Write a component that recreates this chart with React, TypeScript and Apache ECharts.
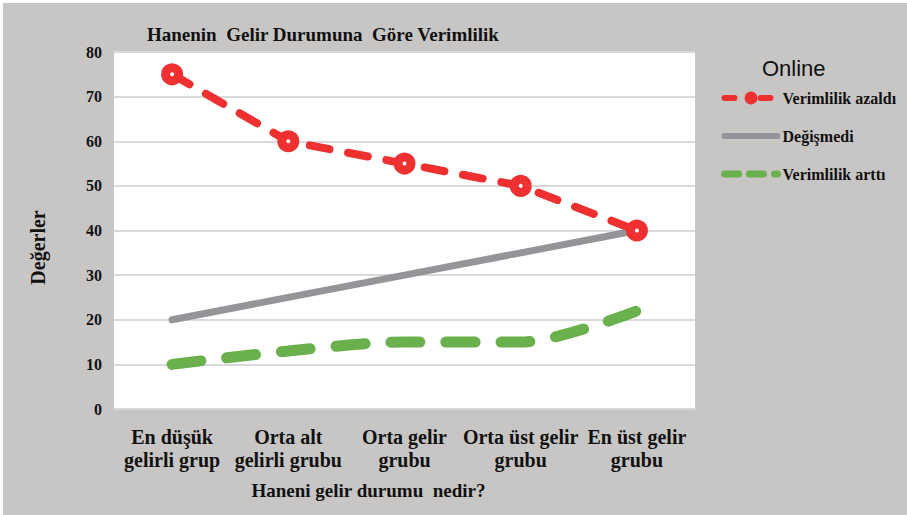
import React, { useEffect, useRef } from "react";
import * as echarts from "echarts";

const categories = [
  "En düşük\ngelirli grup",
  "Orta alt\ngelirli grubu",
  "Orta gelir\ngrubu",
  "Orta üst gelir\ngrubu",
  "En üst gelir\ngrubu",
];
const azaldi = [75, 60, 55, 50, 40];
const degismedi = [20, 25, 30, 35, 40];
const artti = [10, 13, 15, 15, 22];
const seriesNames = ["Verimlilik azaldı", "Değişmedi", "Verimlilik arttı"];

const SERIF = "'Liberation Serif', 'Times New Roman', serif";
const RED = "#ee3030";
const GRAY = "#939598";
const GREEN = "#6ab04c";

export default function App() {
  const ref = useRef<HTMLDivElement>(null);
  useEffect(() => {
    document.body.style.margin = "0";
    const chart = echarts.init(ref.current!, null, { renderer: "svg" });
    chart.setOption({
      animation: false,
      backgroundColor: "#ffffff",
      graphic: [
        {
          type: "rect",
          z: -10,
          zlevel: 0,
          silent: true,
          shape: { x: 3, y: 3, width: 904, height: 512 },
          style: { fill: "#c8c6c4" },
        },
      ],
      title: [
        {
          text: "Hanenin  Gelir Durumuna  Göre Verimlilik",
          left: 142,
          top: 20,
          textStyle: { fontFamily: SERIF, fontWeight: "bold", fontSize: 19, color: "#111" },
        },
        {
          text: "Online",
          left: 757,
          top: 52,
          textStyle: { fontFamily: "'Liberation Sans', Arial, sans-serif", fontWeight: "normal", fontSize: 22, color: "#111" },
        },
      ],
      legend: {
        data: [
          {
            name: seriesNames[0],
            lineStyle: { color: RED, width: 6, type: [10, 26], cap: "round" },
            itemStyle: { color: RED, borderColor: RED, borderWidth: 0 },
          },
          {
            name: seriesNames[1],
            lineStyle: { color: GRAY, width: 6, type: "solid", cap: "round" },
            itemStyle: { opacity: 0 },
          },
          {
            name: seriesNames[2],
            lineStyle: { color: GREEN, width: 7, type: [14, 11], cap: "round" },
            itemStyle: { opacity: 0 },
          },
        ],
        orient: "vertical",
        left: 716,
        top: 85,
        itemWidth: 53,
        itemHeight: 16,
        itemGap: 22,
        textStyle: { fontFamily: SERIF, fontWeight: "bold", fontSize: 16, color: "#111" },
      },
      grid: {
        left: 114,
        right: 212,
        top: 52,
        bottom: 106,
        show: true,
        backgroundColor: "#ffffff",
        borderWidth: 0,
      },
      xAxis: {
        type: "category",
        data: categories,
        boundaryGap: true,
        axisLine: { lineStyle: { color: "#d9d9d9", width: 2 } },
        axisTick: { show: false },
        axisLabel: {
          interval: 0,
          margin: 16,
          fontFamily: SERIF,
          fontWeight: "bold",
          fontSize: 20,
          lineHeight: 23,
          color: "#111",
        },
        name: "Haneni gelir durumu  nedir?",
        nameLocation: "middle",
        nameGap: 72,
        nameTextStyle: {
          fontFamily: SERIF,
          fontWeight: "bold",
          fontSize: 19,
          color: "#111",
          padding: [0, 72, 0, 0],
        },
      },
      yAxis: {
        type: "value",
        min: 0,
        max: 80,
        interval: 10,
        axisLine: { show: false },
        axisTick: { show: false },
        splitLine: { lineStyle: { color: "#d9d9d9", width: 2 } },
        axisLabel: {
          margin: 12,
          fontFamily: SERIF,
          fontWeight: "bold",
          fontSize: 16,
          color: "#111",
        },
        name: "Değerler",
        nameLocation: "middle",
        nameGap: 66,
        nameTextStyle: {
          fontFamily: SERIF,
          fontWeight: "bold",
          fontSize: 20,
          color: "#111",
          padding: [0, 34, 0, 0],
        },
      },
      series: [
        {
          name: seriesNames[1],
          type: "line",
          data: degismedi,
          symbol: "none",
          z: 3,
          lineStyle: { color: GRAY, width: 7, cap: "round" },
          itemStyle: { color: GRAY },
        },
        {
          name: seriesNames[2],
          type: "line",
          data: artti,
          symbol: "none",
          smooth: 0.3,
          z: 2,
          lineStyle: { color: GREEN, width: 11, type: [29, 26], cap: "round" },
          itemStyle: { color: GREEN },
        },
        {
          name: seriesNames[0],
          type: "line",
          data: azaldi,
          symbol: "circle",
          symbolSize: 13,
          z: 4,
          lineStyle: { color: RED, width: 8, type: [20, 19], cap: "round" },
          itemStyle: { color: "#ffffff", borderColor: RED, borderWidth: 9 },
        },
      ],
    });
    return () => chart.dispose();
  }, []);
  return <div ref={ref} style={{ width: 907, height: 515 }} />;
}
